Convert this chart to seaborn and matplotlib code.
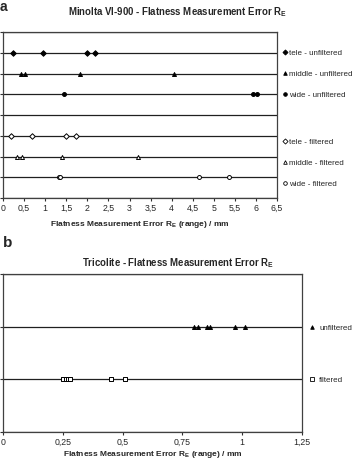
import matplotlib
matplotlib.use("Agg")
import matplotlib.pyplot as plt
from matplotlib.lines import Line2D
import seaborn as sns
import pandas as pd

# panel a - Minolta VI-900
tele_unf = [0.24, 0.95, 1.98, 2.19]
middle_unf = [0.43, 0.53, 1.82, 4.06]
wide_unf = [1.44, 5.92, 6.02]
tele_filt = [0.19, 0.69, 1.50, 1.72]
middle_filt = [0.34, 0.44, 1.39, 3.20]
wide_filt = [1.33, 1.36, 4.66, 5.37]

# panel b - Tricolite
tri_unf = [0.800, 0.815, 0.852, 0.864, 0.971, 1.012]
tri_filt = [0.250, 0.262, 0.273, 0.281, 0.452, 0.512]

xticks_a = [0, 0.5, 1, 1.5, 2, 2.5, 3, 3.5, 4, 4.5, 5, 5.5, 6, 6.5]
xticks_b = [0, 0.25, 0.5, 0.75, 1, 1.25]


def comma(v):
    return ("%g" % v).replace(".", ",")


sns.set_style("white")
plt.rcParams["font.family"] = ["Liberation Sans", "DejaVu Sans"]

fig = plt.figure(figsize=(3.55, 4.61), dpi=100)
ax_a = fig.add_axes([0.0085, 0.5705, 0.772, 0.360])
ax_b = fig.add_axes([0.0085, 0.0629, 0.842, 0.3427])

series_a = [
    ("tele - unfiltered", tele_unf, 7, "D", "black"),
    ("middle - unfiltered", middle_unf, 6, "^", "black"),
    ("wide - unfiltered", wide_unf, 5, "o", "black"),
    ("tele - filtered", tele_filt, 3, "D", "white"),
    ("middle - filtered", middle_filt, 2, "^", "white"),
    ("wide - filtered", wide_filt, 1, "o", "white"),
]
series_b = [
    ("unfiltered", tri_unf, 2, "^", "black"),
    ("filtered", tri_filt, 1, "s", "white"),
]


def draw(ax, series, ymax, xmax, xticks, size, labelpad):
    handles = []
    for name, vals, row, mk, fc in series:
        df = pd.DataFrame({"x": vals, "y": [row] * len(vals)})
        sns.scatterplot(data=df, x="x", y="y", marker=mk, s=size,
                        facecolor=fc, edgecolor="black", linewidth=0.7,
                        ax=ax, zorder=3)
        handles.append(Line2D([], [], ls="none", marker=mk, markersize=2.6,
                              markerfacecolor=fc, markeredgecolor="black",
                              markeredgewidth=0.6, label=name))
    ax.set_xlim(0, xmax)
    ax.set_ylim(0, ymax)
    ax.set_yticks(range(ymax + 1))
    ax.set_yticklabels([])
    ax.set_xticks(xticks)
    ax.set_xticklabels([comma(t) for t in xticks], fontsize=6.3)
    ax.grid(axis="y", color="#202020", lw=0.9)
    ax.set_axisbelow(True)
    ax.tick_params(axis="both", direction="out", length=2.5, width=0.8,
                   color="#303030", pad=2)
    ax.tick_params(axis="y", left=True)
    ax.tick_params(axis="x", bottom=True)
    for sp in ax.spines.values():
        sp.set_color("#404040")
        sp.set_linewidth(0.9)
    ax.set_ylabel("")
    ax.set_xlabel("Flatness Measurement Error R$_\\mathregular{E}$ (range) / mm",
                  fontsize=6.0, fontweight="bold", labelpad=labelpad)
    return handles


h_a = draw(ax_a, series_a, 8, 6.5, xticks_a, 8, 4)
h_b = draw(ax_b, series_b, 3, 1.25, xticks_b, 8, 1.5)

leg_kw = dict(frameon=False, fontsize=5.8, handlelength=0.7,
              borderaxespad=0, borderpad=0)
leg1 = ax_a.legend(handles=h_a[:3], loc="upper left", labelspacing=1.66,
                   handletextpad=0.1, bbox_to_anchor=(1.02, 0.897), **leg_kw)
ax_a.add_artist(leg1)
ax_a.legend(handles=h_a[3:], loc="upper left", labelspacing=1.66,
            handletextpad=0.1, bbox_to_anchor=(1.02, 0.358), **leg_kw)
ax_b.legend(handles=h_b, loc="upper left", labelspacing=5.5,
            handletextpad=0.5, bbox_to_anchor=(1.025, 0.682), **leg_kw)

fig.text(0.5, 0.974, "Minolta VI-900 - Flatness Measurement Error R$_\\mathregular{E}$",
         ha="center", va="center", fontsize=6.9, fontweight="bold")
fig.text(0.5, 0.43, "Tricolite - Flatness Measurement Error R$_\\mathregular{E}$",
         ha="center", va="center", fontsize=6.9, fontweight="bold")
fig.text(0.0, 0.999, "a", ha="left", va="top", fontsize=10, fontweight="bold")
fig.text(0.008, 0.473, "b", ha="left", va="center", fontsize=11, fontweight="bold")

fig.savefig("out.png", dpi=100)
